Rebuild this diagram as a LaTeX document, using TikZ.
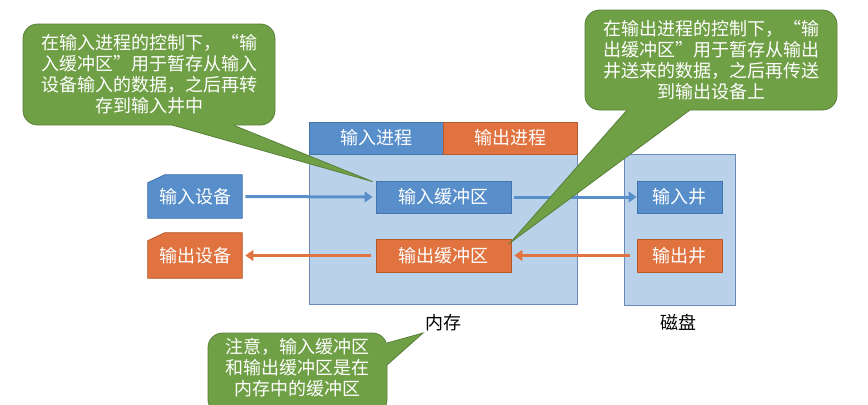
\documentclass[tikz,border=0pt]{standalone}
\usepackage{fontspec}
\setmainfont{Noto Sans CJK SC}
\usetikzlibrary{arrows.meta,fit,calc,backgrounds}
\definecolor{blu}{RGB}{88,143,203}
\definecolor{bluD}{RGB}{70,115,170}
\definecolor{org}{RGB}{224,115,64}
\definecolor{orgD}{RGB}{180,90,45}
\definecolor{pan}{RGB}{186,209,234}
\definecolor{panD}{RGB}{105,138,180}
\definecolor{grn}{RGB}{112,160,70}
\definecolor{grnD}{RGB}{88,128,58}
\newcommand{\fs}{\fontsize{13.5}{15.75}\selectfont}
\tikzset{
  sz/.style 2 args={minimum width=#1*0.75pt, minimum height=#2*0.75pt},
  blubox/.style={draw=bluD, fill=blu, text=white, inner sep=0pt, line width=0.6pt, font=\fs},
  orgbox/.style={draw=orgD, fill=org, text=white, inner sep=0pt, line width=0.6pt, font=\fs},
  panel/.style={draw=panD, fill=pan, inner sep=0pt, line width=0.75pt},
  devtext/.style={inner sep=0pt, text=white, font=\fs},
  callout/.style={fill=grn, draw=grnD, line width=0.6pt, rounded corners=11pt, inner sep=0pt, text=white, align=center, font=\fs},
  tailedge/.style={draw=grnD, line width=0.6pt},
  flowB/.style={draw=blu, line width=2.25pt, -{Triangle[length=6pt,width=8pt]}},
  flowO/.style={draw=org, line width=2.25pt, -{Triangle[length=6pt,width=8pt]}},
  lbl/.style={font=\fs, text=black}
}
\begin{document}
\begin{tikzpicture}[x=0.75pt,y=-0.75pt]
\useasboundingbox (0,0) rectangle (868,404);
\begin{scope}
\clip (0,0) rectangle (868,404);
% memory
\node[panel, fit={(309,122) (577,304)}] (mem) {};
\node[blubox, sz={134}{32}] (inproc) at (376,138) {输入进程};
\node[orgbox, sz={134}{32}] (outproc) at (510,138) {输出进程};
\node[blubox, sz={135}{32}] (ibuf) at (443.5,197) {输入缓冲区};
\node[orgbox, sz={135}{33}] (obuf) at (443.5,255.5) {输出缓冲区};
% disk
\node[panel, fit={(624,154) (735,305)}] (disk) {};
\node[blubox, sz={85}{32}] (iwell) at (679.5,197) {输入井};
\node[orgbox, sz={85}{33}] (owell) at (679.5,255.5) {输出井};
% devices
\node[devtext, sz={94}{43}] (idev) at (195,196.5) {输入设备};
\node[devtext, sz={94}{45}] (odev) at (195,255.5) {输出设备};
\begin{scope}[on background layer]
\filldraw[fill=blu, draw=bluD, line width=0.6pt] (idev.south west) -- ($(idev.north west)+(0,8)$) -- ($(idev.north west)+(17,0)$) -- (idev.north east) -- (idev.south east) -- cycle;
\filldraw[fill=org, draw=orgD, line width=0.6pt] (odev.south west) -- ($(odev.north west)+(0,8)$) -- ($(odev.north west)+(17,0)$) -- (odev.north east) -- (odev.south east) -- cycle;
\end{scope}
% labels
\node[lbl] (memlbl) at (443,323) {内存};
\node[lbl] (disklbl) at (678,322) {磁盘};
% arrows
\draw[flowB] ($(idev.east)+(3,0)$) -- ($(ibuf.west)+(-3,0)$);
\draw[flowB] ($(ibuf.east)+(3,0)$) -- (iwell.west);
\draw[flowO] ($(owell.west)+(-7,0)$) -- ($(obuf.east)+(3,0)$);
\draw[flowO] ($(obuf.west)+(-5,0)$) -- ($(odev.east)+(3,0)$);
% callout 1
\node[callout, sz={252}{101}] (c1) at (149,74.5) {在输入进程的控制下，“输\\入缓冲区”用于暂存从输入\\设备输入的数据，之后再转\\存到输入井中};
\coordinate (t1a) at (172,125);
\coordinate (t1b) at (233,125);
\coordinate (t1tip) at ($(ibuf.north west)+(-3,1)$);
\fill[grn] (t1a) -- (t1tip) -- (t1b) -- ($(t1b)+(0,-4)$) -- ($(t1a)+(0,-4)$) -- cycle;
\draw[tailedge] (t1a) -- (t1tip) -- (t1b);
% callout 2
\node[callout, sz={252}{100}] (c2) at (711,60) {在输出进程的控制下，“输\\出缓冲区”用于暂存从输出\\井送来的数据，之后再传送\\到输出设备上};
\coordinate (t2a) at (627,110);
\coordinate (t2b) at (690,110);
\coordinate (t2tip) at ($(obuf.north east)+(-1,4)$);
\fill[grn] (t2a) -- (t2tip) -- (t2b) -- ($(t2b)+(0,-4)$) -- ($(t2a)+(0,-4)$) -- cycle;
\draw[tailedge] (t2a) -- (t2tip) -- (t2b);
% callout 3
\node[callout, fit={(208,333) (387,414)}] (c3) {};
\node[inner sep=0pt, text=white, align=center, font=\fs] (c3t) at (297.5,368) {注意，输入缓冲区\\和输出缓冲区是在\\内存中的缓冲区};
\coordinate (t3a) at (387,343);
\coordinate (t3b) at (387,365);
\coordinate (t3tip) at (423,333);
\fill[grn] (t3a) -- (t3tip) -- (t3b) -- ($(t3b)+(-4,0)$) -- ($(t3a)+(-4,0)$) -- cycle;
\draw[tailedge] (t3a) -- (t3tip) -- (t3b);
\end{scope}
\end{tikzpicture}
\end{document}
